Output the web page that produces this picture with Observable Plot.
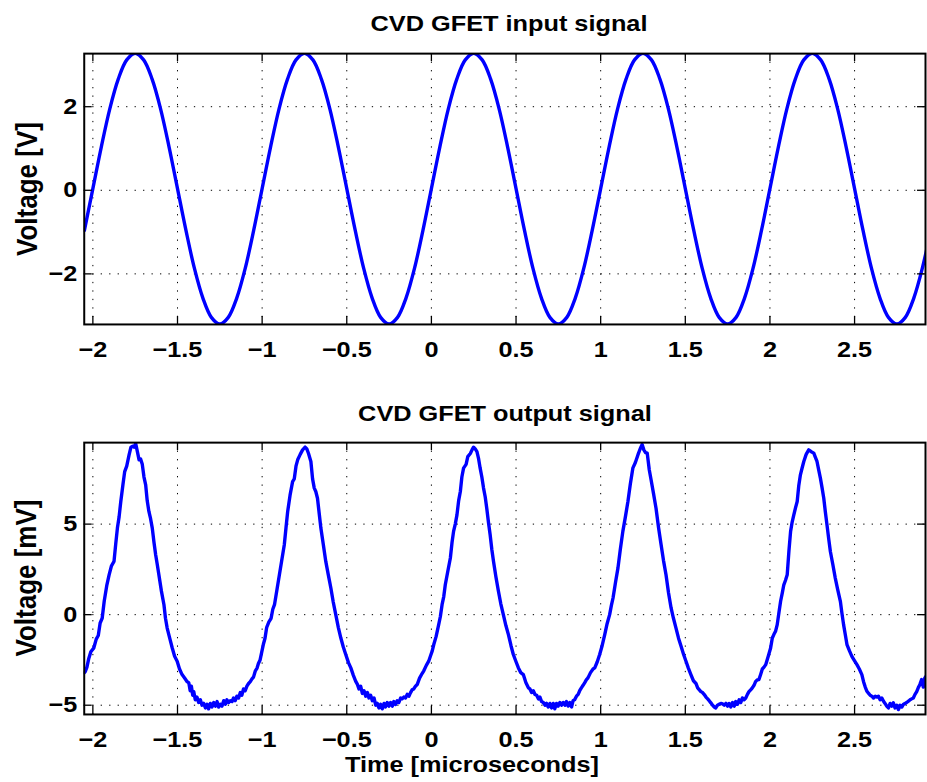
<!DOCTYPE html>
<html><head><meta charset="utf-8">
<script src="https://cdn.jsdelivr.net/npm/d3@7"></script>
<script src="https://cdn.jsdelivr.net/npm/@observablehq/plot@0.6"></script>
<style>
html,body{margin:0;padding:0;background:#fff;}
#fig{position:relative;width:927px;height:782px;overflow:hidden;background:#fff;font-family:"Liberation Sans",Arial,Helvetica,sans-serif;font-weight:bold;color:#000;}
.lbl{position:absolute;white-space:nowrap;font-size:22px;line-height:1;font-weight:bold;}
.yl{font-size:26px;}
.pn{position:absolute;left:0;}
</style></head><body>
<div id="fig">
  <div class="pn" id="p1" style="top:0px"></div>
  <div class="pn" id="p2" style="top:390px"></div>
  <div class="lbl" style="left:509px;top:24px;transform:translate(-50%,-50%) scaleX(1.15)">CVD GFET input signal</div>
  <div class="lbl" style="left:505px;top:414px;transform:translate(-50%,-50%) scaleX(1.15)">CVD GFET output signal</div>
  <div class="lbl" style="left:472px;top:765px;transform:translate(-50%,-50%) scaleX(1.15)">Time [microseconds]</div>
  <div class="lbl yl" style="left:27px;top:189px;transform:translate(-50%,-50%) scaleX(1.12) rotate(-90deg)">Voltage [V]</div>
  <div class="lbl yl" style="left:26px;top:578px;transform:translate(-50%,-50%) scaleX(1.12) rotate(-90deg)">Voltage [mV]</div>
</div>
<script>
// ---- data ----
const xTicks = [-2, -1.5, -1, -0.5, 0, 0.5, 1, 1.5, 2, 2.5];
const inTicks = [-2, 0, 2];
const outTicks = [-5, 0, 5];
const xDomain = [-2.051, 2.919];
const inDomain = [-3.21, 3.27];
const outDomain = [-5.51, 9.5];

// input signal: time (µs)
const inT = [-2.05,
 -2.00,-1.95,-1.90,-1.85,-1.80,-1.75,-1.70,-1.65,-1.60,-1.55,-1.50,-1.45,-1.40,-1.35,-1.30,-1.25,-1.20,-1.15,-1.10,-1.05,
 -1.00,-0.95,-0.90,-0.85,-0.80,-0.75,-0.70,-0.65,-0.60,-0.55,-0.50,-0.45,-0.40,-0.35,-0.30,-0.25,-0.20,-0.15,-0.10,-0.05,
  0.00, 0.05, 0.10, 0.15, 0.20, 0.25, 0.30, 0.35, 0.40, 0.45, 0.50, 0.55, 0.60, 0.65, 0.70, 0.75, 0.80, 0.85, 0.90, 0.95,
  1.00, 1.05, 1.10, 1.15, 1.20, 1.25, 1.30, 1.35, 1.40, 1.45, 1.50, 1.55, 1.60, 1.65, 1.70, 1.75, 1.80, 1.85, 1.90, 1.95,
  2.00, 2.05, 2.10, 2.15, 2.20, 2.25, 2.30, 2.35, 2.40, 2.45, 2.50, 2.55, 2.60, 2.65, 2.70, 2.75, 2.80, 2.85, 2.90, 2.95];
// input signal: voltage (V)
const inV = [-0.96,
 0.04,1.04,1.95,2.66,3.12,3.28,3.12,2.66,1.95,1.04,0.04,-0.96,-1.87,-2.58,-3.04,-3.20,-3.04,-2.58,-1.87,-0.96,
 0.04,1.04,1.95,2.66,3.12,3.28,3.12,2.66,1.95,1.04,0.04,-0.96,-1.87,-2.58,-3.04,-3.20,-3.04,-2.58,-1.87,-0.96,
 0.04,1.04,1.95,2.66,3.12,3.28,3.12,2.66,1.95,1.04,0.04,-0.96,-1.87,-2.58,-3.04,-3.20,-3.04,-2.58,-1.87,-0.96,
 0.04,1.04,1.95,2.66,3.12,3.28,3.12,2.66,1.95,1.04,0.04,-0.96,-1.87,-2.58,-3.04,-3.20,-3.04,-2.58,-1.87,-0.96,
 0.04,1.04,1.95,2.66,3.12,3.28,3.12,2.66,1.95,1.04,0.04,-0.96,-1.87,-2.58,-3.04,-3.20,-3.04,-2.58,-1.87,-0.96];

// output signal: [time µs, voltage mV], one array per cycle
const out1 = [[-2.051,-3.2],[-2.045,-3.15],[-2.035,-2.9],[-2.025,-2.45],[-2.012,-2.05],[-1.995,-1.85],[-1.98,-1.35],[-1.968,-1.15],[-1.957,-0.46],[-1.945,-0.2],[-1.933,0.74],[-1.918,1.6],[-1.904,2.2],[-1.89,2.7],[-1.875,2.94],[-1.865,3.9],[-1.855,4.78],[-1.845,5.4],[-1.835,6.25],[-1.822,7.2],[-1.812,7.9],[-1.8,8.2],[-1.786,8.82],[-1.775,9.25],[-1.765,9.3],[-1.757,9.25],[-1.747,9.45],[-1.737,9.0],[-1.727,8.55],[-1.718,8.6],[-1.708,8.3],[-1.698,7.6],[-1.688,7.17],[-1.679,6.3],[-1.669,5.7],[-1.659,5.3],[-1.649,4.78],[-1.639,4.0],[-1.629,3.31],[-1.62,2.8],[-1.61,2.2],[-1.595,1.3],[-1.58,0.55],[-1.571,-0.2],[-1.561,-0.74],[-1.546,-1.3],[-1.531,-1.84],[-1.517,-2.3],[-1.502,-2.57],[-1.488,-3.0],[-1.473,-3.31],[-1.458,-3.5],[-1.443,-3.7],[-1.433,-3.77],[-1.425,-4.2],[-1.418,-3.95],[-1.41,-4.45],[-1.404,-4.25],[-1.395,-4.7],[-1.385,-4.55],[-1.375,-4.85],[-1.365,-4.7],[-1.355,-5.0],[-1.345,-4.9],[-1.335,-5.15],[-1.325,-4.95],[-1.316,-5.2],[-1.306,-4.9],[-1.296,-5.1],[-1.286,-4.85],[-1.276,-5.05],[-1.266,-4.8],[-1.257,-5.1],[-1.247,-4.95],[-1.237,-5.05],[-1.227,-4.75],[-1.217,-4.95],[-1.208,-4.7],[-1.198,-4.85],[-1.188,-4.75],[-1.178,-4.8],[-1.169,-4.6],[-1.159,-4.75],[-1.149,-4.5],[-1.139,-4.6],[-1.129,-4.3],[-1.12,-4.45],[-1.11,-4.1],[-1.1,-4.2],[-1.09,-3.95],[-1.08,-3.8],[-1.07,-3.7],[-1.06,-3.55],[-1.051,-3.45],[-1.04,-3.1],[-1.03,-2.95],[-1.022,-2.7],[-1.012,-2.5],[-1.003,-2.1],[-0.993,-1.65],[-0.983,-1.3],[-0.973,-0.7]];
const out2 = [[-0.96,-0.4],[-0.947,-0.2],[-0.937,0.3],[-0.927,0.55],[-0.912,1.4],[-0.898,2.2],[-0.884,3.0],[-0.869,3.86],[-0.859,4.8],[-0.849,5.7],[-0.835,6.6],[-0.82,7.35],[-0.81,7.5],[-0.8,8.2],[-0.79,8.55],[-0.775,8.85],[-0.761,9.1],[-0.746,9.25],[-0.736,9.15],[-0.726,8.9],[-0.712,8.46],[-0.702,7.5],[-0.692,6.99],[-0.683,6.8],[-0.673,6.43],[-0.663,5.6],[-0.653,4.78],[-0.639,3.9],[-0.624,2.94],[-0.609,2.2],[-0.594,1.47],[-0.58,0.7],[-0.565,0],[-0.55,-0.7],[-0.535,-1.29],[-0.52,-1.8],[-0.506,-2.2],[-0.49,-2.65],[-0.476,-2.94],[-0.461,-3.35],[-0.447,-3.68],[-0.437,-3.85],[-0.428,-4.1],[-0.418,-3.95],[-0.408,-4.35],[-0.398,-4.2],[-0.388,-4.5],[-0.378,-4.3],[-0.369,-4.6],[-0.359,-4.45],[-0.349,-4.75],[-0.339,-4.6],[-0.329,-5.0],[-0.32,-4.9],[-0.31,-5.15],[-0.3,-4.95],[-0.29,-5.2],[-0.28,-4.9],[-0.271,-5.1],[-0.261,-4.85],[-0.251,-5.05],[-0.241,-4.85],[-0.231,-5.05],[-0.222,-4.8],[-0.212,-4.96],[-0.202,-4.75],[-0.192,-4.85],[-0.182,-4.6],[-0.173,-4.65],[-0.163,-4.55],[-0.153,-4.6],[-0.143,-4.4],[-0.133,-4.5],[-0.124,-4.32],[-0.114,-4.15],[-0.104,-4.1],[-0.094,-3.95],[-0.084,-3.86],[-0.07,-3.5],[-0.055,-3.25],[-0.045,-3.1],[-0.03,-2.8],[-0.016,-2.57],[-0.006,-2.3]];
const out3 = [[0.005,-2.0],[0.014,-1.65],[0.028,-1.2],[0.043,-0.55],[0.053,-0.1],[0.063,0.55],[0.073,1.0],[0.082,1.65],[0.097,2.4],[0.112,3.13],[0.122,4.0],[0.131,4.6],[0.141,5.0],[0.151,5.51],[0.161,6.3],[0.171,6.8],[0.18,7.6],[0.19,8.09],[0.205,8.3],[0.215,8.73],[0.23,8.9],[0.24,9.1],[0.249,9.25],[0.259,9.15],[0.269,9.0],[0.279,8.6],[0.288,8.09],[0.298,7.6],[0.308,6.99],[0.318,6.5],[0.327,5.88],[0.337,5.1],[0.347,4.41],[0.357,3.6],[0.367,2.94],[0.381,2.1],[0.396,1.29],[0.41,0.6],[0.425,0],[0.44,-0.6],[0.455,-1.1],[0.47,-1.7],[0.484,-2.2],[0.5,-2.6],[0.514,-2.94],[0.528,-3.2],[0.543,-3.31],[0.558,-3.75],[0.573,-4.04],[0.582,-4.1],[0.592,-4.3],[0.602,-4.2],[0.612,-4.41],[0.622,-4.45],[0.632,-4.65],[0.641,-4.55],[0.651,-4.8],[0.661,-4.85],[0.671,-5.0],[0.68,-4.9],[0.69,-5.1],[0.7,-4.9],[0.71,-5.15],[0.72,-4.9],[0.729,-5.2],[0.739,-4.9],[0.749,-5.05],[0.759,-4.85],[0.769,-5.0],[0.779,-4.85],[0.789,-5.0],[0.798,-4.8],[0.808,-5.05],[0.818,-4.85],[0.828,-5.1],[0.837,-4.75],[0.847,-4.69],[0.857,-4.5],[0.867,-4.4],[0.876,-4.2],[0.886,-4.04],[0.896,-3.9],[0.906,-3.75],[0.915,-3.6],[0.925,-3.49],[0.94,-3.2],[0.955,-3.0],[0.965,-2.94],[0.98,-2.6],[0.994,-2.2],[1.009,-1.7],[1.024,-1.1],[1.038,-0.5],[1.053,0]];
const out4 = [[1.063,0.5],[1.073,0.92],[1.088,1.8],[1.102,2.57],[1.116,3.6],[1.131,4.6],[1.146,5.4],[1.161,6.25],[1.175,7.2],[1.19,8.09],[1.205,8.4],[1.22,8.82],[1.233,9.15],[1.245,9.4],[1.255,9.1],[1.265,8.95],[1.275,8.92],[1.287,8.0],[1.298,7.44],[1.312,6.7],[1.327,5.88],[1.342,4.8],[1.357,3.86],[1.371,3.0],[1.386,2.2],[1.401,1.2],[1.416,0.37],[1.43,-0.2],[1.445,-0.74],[1.46,-1.3],[1.475,-1.75],[1.49,-2.2],[1.504,-2.57],[1.518,-2.95],[1.533,-3.31],[1.548,-3.65],[1.563,-3.8],[1.573,-4.04],[1.583,-4.15],[1.592,-4.25],[1.602,-4.3],[1.612,-4.41],[1.622,-4.55],[1.632,-4.65],[1.641,-4.75],[1.651,-4.87],[1.661,-5.0],[1.671,-5.1],[1.68,-5.15],[1.69,-5.0],[1.7,-4.95],[1.71,-4.9],[1.72,-4.93],[1.73,-5.0],[1.74,-4.9],[1.75,-5.05],[1.759,-4.9],[1.769,-5.1],[1.779,-4.85],[1.789,-5.05],[1.798,-4.8],[1.808,-4.95],[1.818,-4.7],[1.828,-4.85],[1.837,-4.6],[1.847,-4.7],[1.857,-4.6],[1.867,-4.4],[1.876,-4.25],[1.886,-4.15],[1.896,-4.04],[1.906,-3.9],[1.915,-3.7],[1.925,-3.6],[1.935,-3.58],[1.945,-3.3],[1.955,-3.0],[1.965,-2.9],[1.975,-2.76],[1.99,-2.3],[2.004,-1.84],[2.014,-1.29],[2.023,-1.1],[2.033,-0.92],[2.043,-0.55],[2.053,0.1]];
const out5 = [[2.063,0.74],[2.073,1.2],[2.082,1.65],[2.092,1.9],[2.102,2.2],[2.112,3.5],[2.122,4.6],[2.131,5.1],[2.141,5.51],[2.151,5.9],[2.161,6.25],[2.17,7.1],[2.18,7.72],[2.19,8.1],[2.2,8.46],[2.214,8.85],[2.229,9.1],[2.244,9.0],[2.259,8.92],[2.268,8.7],[2.278,8.46],[2.288,8.0],[2.298,7.54],[2.308,7.0],[2.318,6.43],[2.327,5.7],[2.337,4.96],[2.347,4.2],[2.357,3.49],[2.371,2.8],[2.386,2.02],[2.4,1.4],[2.416,0.74],[2.425,0.1],[2.435,-0.55],[2.445,-1.1],[2.455,-1.65],[2.47,-2.0],[2.484,-2.3],[2.5,-2.55],[2.514,-2.76],[2.528,-3.0],[2.543,-3.31],[2.553,-3.7],[2.563,-4.0],[2.573,-4.23],[2.583,-4.35],[2.592,-4.45],[2.602,-4.5],[2.612,-4.6],[2.622,-4.5],[2.632,-4.55],[2.641,-4.5],[2.651,-4.7],[2.661,-4.6],[2.671,-4.78],[2.68,-4.9],[2.69,-5.05],[2.7,-5.15],[2.71,-4.9],[2.72,-5.05],[2.729,-4.87],[2.739,-5.15],[2.749,-5.0],[2.759,-5.24],[2.769,-5.0],[2.779,-5.1],[2.788,-4.96],[2.798,-4.9],[2.808,-4.85],[2.818,-4.78],[2.828,-4.7],[2.837,-4.65],[2.847,-4.6],[2.857,-4.4],[2.867,-4.25],[2.876,-4.04],[2.886,-3.85],[2.896,-3.58],[2.906,-4.0],[2.915,-3.5],[2.93,-3.3]];

// ---- build tables ----
const inData = inT.map((t, i) => ({t, v: inV[i]}));
const outData = [...out1, ...out2, ...out3, ...out4, ...out5].map(([t, v]) => ({t, v}));

const W = 930, ML = 84, MR = 2;
const FONT = '"Liberation Sans", Arial, Helvetica, sans-serif';
const TICK = 8, DOT = "1.3,7.2", STRETCH = 1.15;
const fmt = d3.format("~g");

function panel(data, yDomain, yTicks, curve, mt, mb, h) {
  const fw = W - ML - MR, fh = h - mt - mb;
  return Plot.plot({
    width: W, height: h,
    marginLeft: ML, marginRight: MR, marginTop: mt, marginBottom: mb,
    x: {domain: xDomain},
    y: {domain: yDomain},
    style: {fontFamily: FONT, fontSize: "22px", fontWeight: "bold", color: "black", background: "transparent", overflow: "visible"},
    marks: [
      Plot.ruleX(xTicks, {stroke: "black", strokeWidth: 1, strokeDasharray: DOT}),
      Plot.ruleY(yTicks, {stroke: "black", strokeWidth: 1, strokeDasharray: DOT}),
      Plot.line(data, {x: "t", y: "v", stroke: "#0000ff", strokeWidth: 3.4, curve, clip: true, strokeLinejoin: "round"}),
      // inward ticks on all four sides
      Plot.ruleX(xTicks, {stroke: "black", strokeWidth: 1.3, insetTop: fh - TICK}),
      Plot.ruleX(xTicks, {stroke: "black", strokeWidth: 1.3, insetBottom: fh - TICK}),
      Plot.ruleY(yTicks, {stroke: "black", strokeWidth: 1.3, insetRight: fw - TICK}),
      Plot.ruleY(yTicks, {stroke: "black", strokeWidth: 1.3, insetLeft: fw - TICK}),
      Plot.frame({stroke: "black", strokeWidth: 2}),
      Plot.axisX({ticks: xTicks, tickFormat: fmt, tickSize: 0, tickPadding: 17, label: null, fontSize: 22, fontWeight: "bold"}),
      Plot.axisY({ticks: yTicks, tickFormat: fmt, tickSize: 0, tickPadding: 7, label: null, fontSize: 22, fontWeight: "bold"})
    ]
  });
}

function stretch(svg) {
  svg.querySelectorAll('g[aria-label$="tick label"] text').forEach(t => {
    const tr = t.getAttribute("transform");
    if (tr) t.setAttribute("transform", tr + ` scale(${STRETCH},1)`);
  });
}

const c1 = panel(inData, inDomain, inTicks, "catmull-rom", 53.3, 65, 390);
const c2 = panel(outData, outDomain, outTicks, "linear", 52.3, 67, 392);
stretch(c1); stretch(c2);
document.getElementById("p1").appendChild(c1);
document.getElementById("p2").appendChild(c2);
</script>
</body></html>
